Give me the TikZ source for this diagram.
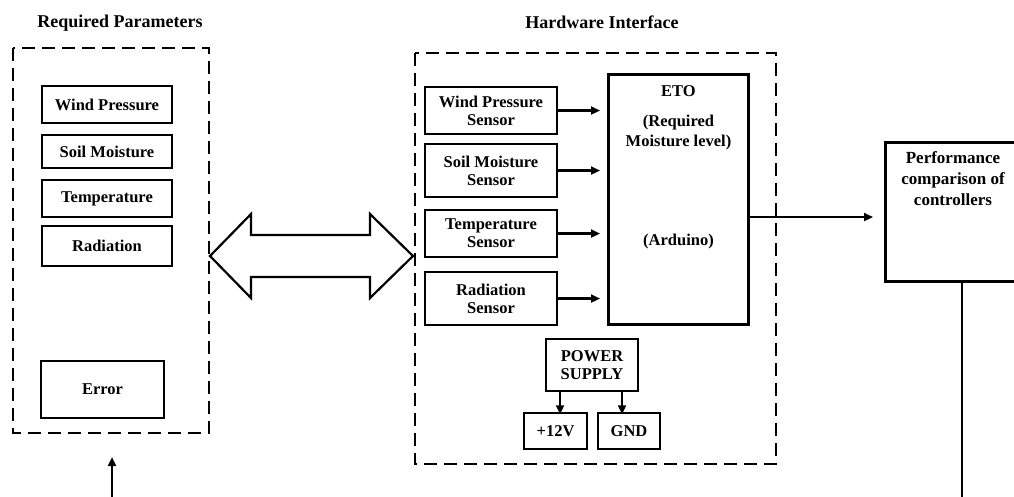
\documentclass[tikz,border=0pt]{standalone}
\usepackage{fontspec}
\setmainfont{Liberation Serif}
\usetikzlibrary{arrows.meta}
\begin{document}
\begin{tikzpicture}[x=1pt,y=-1pt,
    box/.style={draw,line width=2.5pt,inner sep=0pt,align=center,font=\bfseries\fontsize{16.5}{18}\selectfont},
    txt/.style={inner sep=0pt,align=center,font=\bfseries\fontsize{16.5}{20}\selectfont},
    ttl/.style={inner sep=0pt,font=\bfseries\fontsize{18}{20}\selectfont},
    grp/.style={draw,line width=2.7pt,dash pattern=on 13pt off 7pt},
    arr/.style={-{Triangle[length=9pt,width=8pt]},line width=2.2pt}]
  \useasboundingbox (0,0) rectangle (1014,496);
  \clip (0,0) rectangle (1014,496);
  % required parameters
  \node[ttl] (rqt) at (120,23) {Required Parameters};
  \draw[grp] (13,48) rectangle (209,433);
  \node[box,minimum width=130,minimum height=37] (wp) at (107,104.5) {Wind Pressure};
  \node[box,minimum width=130,minimum height=33] (sm) at (107,151.5) {Soil Moisture};
  \node[box,minimum width=130,minimum height=37] (tp) at (107,198.5) {Temperature};
  \node[box,minimum width=130,minimum height=40] (rd) at (107,246) {Radiation};
  \node[box,minimum width=123,minimum height=57] (err) at (102.5,389.5) {Error};
  % hardware interface
  \node[ttl] (hwt) at (602,22) {Hardware Interface};
  \draw[grp] (415,53) rectangle (776,464);
  \node[box,minimum width=132,minimum height=47] (s1) at (491,110.5) {Wind Pressure\\Sensor};
  \node[box,minimum width=132,minimum height=53] (s2) at (491,170.5) {Soil Moisture\\Sensor};
  \node[box,minimum width=132,minimum height=47] (s3) at (491,233.5) {Temperature\\Sensor};
  \node[box,minimum width=132,minimum height=53] (s4) at (491,298.5) {Radiation\\Sensor};
  \node[box,minimum width=140,minimum height=250] (eto) at (678.5,199.5) {};
  \node[txt] (etoa) at (678.5,91) {ETO};
  \node[txt] (etob) at (678.5,133) {(Required\\Moisture level)};
  \node[txt] (etoc) at (678.5,242) {(Arduino)};
  \draw[arr] (s1.east) -- (s1.east -| 600,0);
  \draw[arr] (s2.east) -- (s2.east -| 600,0);
  \draw[arr] (s3.east) -- (s3.east -| 600,0);
  \draw[arr] (s4.east) -- (s4.east -| 600,0);
  \node[box,minimum width=92,minimum height=52] (ps) at (592,365) {POWER\\SUPPLY};
  \node[box,minimum width=63,minimum height=36] (vcc) at (555.5,431) {+12V};
  \node[box,minimum width=62,minimum height=36] (gnd) at (629,431) {GND};
  \draw[arr] (ps.south -| vcc) ++(4.5,0) -- ++(0,22);
  \draw[arr] (ps.south -| gnd) ++(-7,0) -- ++(0,22);
  % link between the two groups
  \draw[line width=2.2pt,line join=miter] (210,256) -- (251,214) -- (251,235) -- (370,235) -- (370,214)
    -- (413,256) -- (370,298) -- (370,277) -- (251,277) -- (251,298) -- cycle;
  % performance
  \node[box,minimum width=136,minimum height=139,anchor=north west] (pc) at (884,141) {};
  \node[txt,font=\bfseries\fontsize{17}{21}\selectfont] (pct) at (953,179) {Performance\\comparison of\\controllers};
  \coordinate (pin) at (873,217);
  \draw[arr] (eto.east |- pin) -- (pin);
  \coordinate (fb1) at (962,500);
  \coordinate (fb2) at (112,500);
  \draw[line width=2.5pt] (pc.south -| fb1) -- (fb1);
  \draw[arr] (fb2) -- (112,457);
\end{tikzpicture}
\end{document}
